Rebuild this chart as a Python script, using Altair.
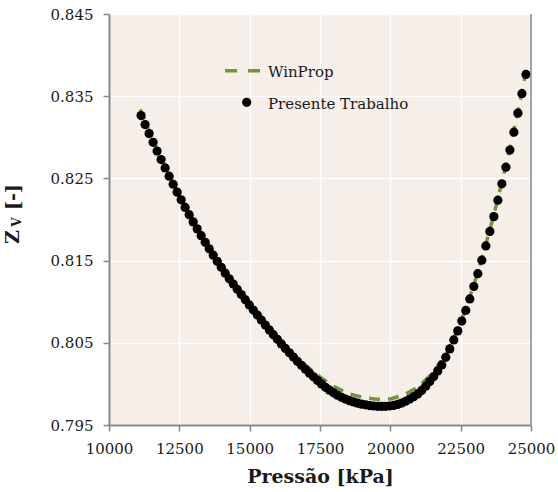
import altair as alt
import pandas as pd

# Presente Trabalho: compressibility factor of the vapour phase vs pressure
pressao_pt = [
    11140, 11282.5, 11425, 11567.5, 11710, 11852.5, 11995, 12137.5, 12280, 12422.5,
    12565, 12707.5, 12850, 12992.5, 13135, 13277.5, 13420, 13562.5, 13705, 13847.5,
    13990, 14132.5, 14275, 14417.5, 14560, 14702.5, 14845, 14987.5, 15130, 15272.5,
    15415, 15557.5, 15700, 15842.5, 15985, 16127.5, 16270, 16412.5, 16555, 16697.5,
    16840, 16982.5, 17125, 17267.5, 17410, 17552.5, 17695, 17837.5, 17980, 18122.5,
    18265, 18407.5, 18550, 18692.5, 18835, 18977.5, 19120, 19262.5, 19405, 19547.5,
    19690, 19832.5, 19975, 20117.5, 20260, 20402.5, 20545, 20687.5, 20830, 20972.5,
    21115, 21257.5, 21400, 21542.5, 21685, 21827.5, 21970, 22112.5, 22255, 22397.5,
    22540, 22682.5, 22825, 22967.5, 23110, 23252.5, 23395, 23537.5, 23680, 23822.5,
    23965, 24107.5, 24250, 24392.5, 24535, 24677.5, 24820,
]
zv_pt = [
    0.83265, 0.83155, 0.83046, 0.82939, 0.82833, 0.82729, 0.82627, 0.82527, 0.82429, 0.82333,
    0.82239, 0.82147, 0.82058, 0.81971, 0.81886, 0.81803, 0.81722, 0.81643, 0.81566, 0.81491,
    0.81418, 0.81347, 0.81279, 0.81214, 0.81151, 0.81087, 0.81024, 0.80961, 0.80898, 0.80837,
    0.80776, 0.80716, 0.80657, 0.80599, 0.80542, 0.80486, 0.80432, 0.80378, 0.80326, 0.80275,
    0.80226, 0.80178, 0.80131, 0.80086, 0.80042, 0.79999, 0.79959, 0.79923, 0.79891, 0.79862,
    0.79837, 0.79815, 0.79796, 0.79780, 0.79766, 0.79754, 0.79745, 0.79737, 0.79731, 0.79727,
    0.79726, 0.79727, 0.79731, 0.79738, 0.79750, 0.79767, 0.79789, 0.79815, 0.79844, 0.79878,
    0.79921, 0.79972, 0.80028, 0.80089, 0.80157, 0.80231, 0.80324, 0.80426, 0.80535, 0.80645,
    0.80764, 0.80894, 0.81034, 0.81185, 0.81341, 0.81505, 0.81678, 0.81855, 0.82035, 0.82235,
    0.82434, 0.82637, 0.82845, 0.83062, 0.83294, 0.83530, 0.83765,
]

# WinProp reference curve
pressao_wp = [
    11110, 11500, 12000, 12500, 13000, 13500, 14000, 14500, 15000, 15500,
    16000, 16500, 17000, 17500, 18000, 18500, 19000, 19500, 19750, 20000,
    20500, 21000, 21500, 22000, 22250, 22500, 22750, 23000, 23250, 23500,
    23750, 24000, 24250, 24500, 24700, 24880,
]
zv_wp = [
    0.83340, 0.83020, 0.82643, 0.82302, 0.81986, 0.81698, 0.81433, 0.81198, 0.80975, 0.80760,
    0.80556, 0.80376, 0.80222, 0.80085, 0.79966, 0.79883, 0.79838, 0.79813, 0.79811, 0.79817,
    0.79867, 0.79966, 0.80131, 0.80375, 0.80551, 0.80751, 0.80980, 0.81241, 0.81522, 0.81828,
    0.82153, 0.82504, 0.82865, 0.83257, 0.83587, 0.83910,
]

x_ticks = [10000, 12500, 15000, 17500, 20000, 22500, 25000]
y_ticks = [0.795, 0.805, 0.815, 0.825, 0.835, 0.845]
legend_labels = ["WinProp", "Presente Trabalho"]

W, H = 422, 411
FONT = "DejaVu Serif"
AXIS_GREY = "#878787"
GREEN = "#77933C"

df_pt = pd.DataFrame({"p": pressao_pt, "z": zv_pt})
df_wp = pd.DataFrame({"p": pressao_wp, "z": zv_wp})

x_scale = alt.Scale(domain=[10000, 25000], nice=False, zero=False)
y_scale = alt.Scale(domain=[0.795, 0.845], nice=False, zero=False)

x_axis = alt.Axis(
    values=x_ticks, format="d", title="Pressão [kPa]",
    grid=True, gridColor="white", gridWidth=1.5,
    domainColor=AXIS_GREY, domainWidth=2,
    tickColor=AXIS_GREY, tickSize=6, tickWidth=1.5,
    labelFont=FONT, labelFontSize=15, labelColor="#1a1a1a", labelPadding=10,
    labelFlush=False,
    titleFont=FONT, titleFontSize=19, titleFontWeight="bold", titleColor="#1a1a1a",
    titlePadding=11,
)
y_axis = alt.Axis(
    values=y_ticks, format=".3f", title="",
    grid=True, gridColor="white", gridWidth=1.5,
    domainColor=AXIS_GREY, domainWidth=2,
    tickColor=AXIS_GREY, tickSize=6, tickWidth=1.5,
    labelFont=FONT, labelFontSize=15, labelColor="#1a1a1a", labelPadding=10,
    labelFlush=False,
)

wp_line = alt.Chart(df_wp).mark_line(
    color=GREEN, strokeWidth=3.5, strokeDash=[11, 8]
).encode(
    x=alt.X("p:Q", scale=x_scale, axis=x_axis),
    y=alt.Y("z:Q", scale=y_scale, axis=y_axis),
)

pt_points = alt.Chart(df_pt).mark_circle(
    size=85, color="black", opacity=1
).encode(
    x=alt.X("p:Q", scale=x_scale),
    y=alt.Y("z:Q", scale=y_scale),
)

# right-hand frame line of the plot area
right_edge = alt.Chart(pd.DataFrame({"p": [25000]})).mark_rule(
    color=AXIS_GREY, strokeWidth=1.5
).encode(x=alt.X("p:Q", scale=x_scale))

# legend drawn inside the plot area
leg_line = alt.Chart(pd.DataFrame({"a": [0]})).mark_rule(
    color=GREEN, strokeWidth=3.5, strokeDash=[12, 11]
).encode(x=alt.value(116), x2=alt.value(153), y=alt.value(56.7))
leg_dot = alt.Chart(pd.DataFrame({"a": [0]})).mark_circle(
    size=85, color="black", opacity=1
).encode(x=alt.value(137.7), y=alt.value(88.3))
leg_text = alt.Chart(pd.DataFrame({"t": legend_labels, "yy": [62.7, 94.7]})).mark_text(
    font=FONT, fontSize=15, color="#1a1a1a", align="left", baseline="alphabetic"
).encode(x=alt.value(159), y=alt.Y("yy:Q", scale=None), text="t:N")

# y-axis title Z_V [-] built from rotated pieces
ttl_z = alt.Chart(pd.DataFrame({"t": ["Z"]})).mark_text(
    font=FONT, fontSize=19, fontWeight="bold", color="#1a1a1a", angle=270,
    align="center", baseline="middle"
).encode(x=alt.value(-96), y=alt.value(223), text="t:N")
ttl_v = alt.Chart(pd.DataFrame({"t": ["V"]})).mark_text(
    font=FONT, fontSize=12, fontWeight="bold", color="#1a1a1a", angle=270,
    align="center", baseline="middle"
).encode(x=alt.value(-92), y=alt.value(208), text="t:N")
ttl_u = alt.Chart(pd.DataFrame({"t": ["[-]"]})).mark_text(
    font=FONT, fontSize=19, fontWeight="bold", color="#1a1a1a", angle=270,
    align="center", baseline="middle"
).encode(x=alt.value(-96), y=alt.value(183), text="t:N")

chart = alt.layer(
    wp_line, pt_points, right_edge, leg_line, leg_dot, leg_text, ttl_z, ttl_v, ttl_u
).properties(
    width=W, height=H,
    autosize="none",
    padding={"left": 109, "top": 14, "right": 27, "bottom": 67},
    background="white",
).configure_view(fill="#F6EEE8", stroke=None)

chart.save("out.html", embed_options={"renderer": "svg", "actions": False})
